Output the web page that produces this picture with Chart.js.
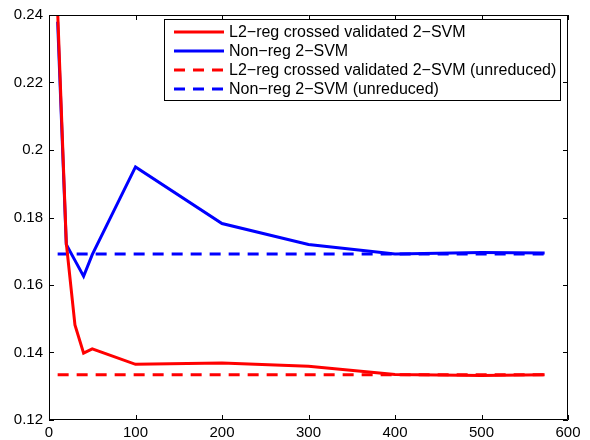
<!DOCTYPE html>
<html>
<head>
<meta charset="utf-8">
<script src="https://cdn.jsdelivr.net/npm/chart.js@4"></script>
<style>
  html, body { margin: 0; padding: 0; background: #fff; }
  #wrap { width: 590px; height: 440px; }
</style>
</head>
<body>
<div id="wrap"><canvas id="svmChart"></canvas></div>
<script>
// Data
const sampleSizes = [10, 20, 30, 40, 50, 100, 200, 300, 400, 500, 573];
const l2RegError = [0.241, 0.1724, 0.1482, 0.1398, 0.1411, 0.1365, 0.1369, 0.1359, 0.1335, 0.1332, 0.1334];
const nonRegError = [0.238, 0.1720, 0.1673, 0.1626, 0.1690, 0.1950, 0.1782, 0.1720, 0.1692, 0.1696, 0.1695];
const fullRange = [10, 573];
const l2RegUnreduced = [0.1334, 0.1334];
const nonRegUnreduced = [0.1692, 0.1692];
const xTicks = [0, 100, 200, 300, 400, 500, 600];
const yTicks = [0.12, 0.14, 0.16, 0.18, 0.2, 0.22, 0.24];
const seriesLabels = [
    'L2\u2212reg crossed validated 2\u2212SVM',
    'Non\u2212reg 2\u2212SVM',
    'L2\u2212reg crossed validated 2\u2212SVM (unreduced)',
    'Non\u2212reg 2\u2212SVM (unreduced)'
];

const FONT = '"Liberation Sans", Arial, Helvetica, sans-serif';
const dash = [11, 8];

function pts(xs, ys) {
    return xs.map((x, i) => ({ x: x, y: ys[i] }));
}

// MATLAB style box with inward ticks and legend inside the axes
const matlabBox = {
    id: 'matlabBox',
    afterDraw(chart) {
        const ctx = chart.ctx;
        const a = chart.chartArea;
        const xs = chart.scales.x, ys = chart.scales.y;
        ctx.save();
        ctx.strokeStyle = '#000';
        ctx.lineWidth = 1;
        ctx.beginPath();
        ctx.rect(a.left + 0.5, a.top + 0.5, a.right - a.left - 1, a.bottom - a.top - 1);
        ctx.stroke();
        const tl = 5;
        ctx.beginPath();
        xTicks.forEach(v => {
            const px = Math.round(xs.getPixelForValue(v)) + 0.5;
            ctx.moveTo(px, a.bottom); ctx.lineTo(px, a.bottom - tl);
            ctx.moveTo(px, a.top); ctx.lineTo(px, a.top + tl);
        });
        yTicks.forEach(v => {
            const py = Math.round(ys.getPixelForValue(v)) + 0.5;
            ctx.moveTo(a.left, py); ctx.lineTo(a.left + tl, py);
            ctx.moveTo(a.right, py); ctx.lineTo(a.right - tl, py);
        });
        ctx.stroke();

        // legend
        const bx = 164.5, by = 19.5, bw = 396, bh = 81;
        ctx.fillStyle = '#fff';
        ctx.fillRect(bx, by, bw, bh);
        ctx.strokeRect(bx, by, bw, bh);
        ctx.font = '16px ' + FONT;
        ctx.textBaseline = 'middle';
        chart.data.datasets.forEach((ds, i) => {
            const y = 32 + i * 19;
            ctx.strokeStyle = ds.borderColor;
            ctx.lineWidth = 3;
            ctx.setLineDash(ds.borderDash || []);
            ctx.beginPath();
            ctx.moveTo(174, y); ctx.lineTo(224, y);
            ctx.stroke();
            ctx.setLineDash([]);
            ctx.fillStyle = '#000';
            ctx.fillText(ds.label, 229, y + 1);
        });
        ctx.restore();
    }
};

const svmChart = document.getElementById('svmChart');
if (svmChart) {
    const svmData = {
        datasets: [{
            label: seriesLabels[0],
            data: pts(sampleSizes, l2RegError),
            borderColor: '#ff0000',
            borderWidth: 3
        }, {
            label: seriesLabels[1],
            data: pts(sampleSizes, nonRegError),
            borderColor: '#0000ff',
            borderWidth: 3
        }, {
            label: seriesLabels[2],
            data: pts(fullRange, l2RegUnreduced),
            borderColor: '#ff0000',
            borderWidth: 3,
            borderDash: dash
        }, {
            label: seriesLabels[3],
            data: pts(fullRange, nonRegUnreduced),
            borderColor: '#0000ff',
            borderWidth: 3,
            borderDash: dash
        }]
    };
    const svmOptions = {
        responsive: true,
        maintainAspectRatio: false,
        animation: false,
        layout: { padding: { left: 0, top: 12, right: 22, bottom: 0 } },
        elements: { point: { radius: 0 }, line: { tension: 0, borderCapStyle: 'butt' } },
        plugins: { legend: { display: false }, tooltip: { enabled: false } },
        scales: {
            x: {
                type: 'linear',
                min: 0, max: 600,
                afterFit: s => { s.height = 20; },
                afterBuildTicks: s => { s.ticks = xTicks.map(v => ({ value: v })); },
                grid: { display: false, drawTicks: false },
                border: { display: false },
                ticks: { color: '#000', padding: 4, maxRotation: 0, font: { family: FONT, size: 15 } }
            },
            y: {
                min: 0.12, max: 0.24,
                afterFit: s => { s.width = 49; },
                afterBuildTicks: s => { s.ticks = yTicks.map(v => ({ value: v })); },
                grid: { display: false, drawTicks: false },
                border: { display: false },
                ticks: {
                    color: '#000', padding: 6, font: { family: FONT, size: 15 },
                    callback: v => String(Number(v.toFixed(2)))
                }
            }
        }
    };
    new Chart(svmChart, {
        type: 'line',
        data: svmData,
        options: svmOptions,
        plugins: [matlabBox]
    });
}
</script>
</body>
</html>
